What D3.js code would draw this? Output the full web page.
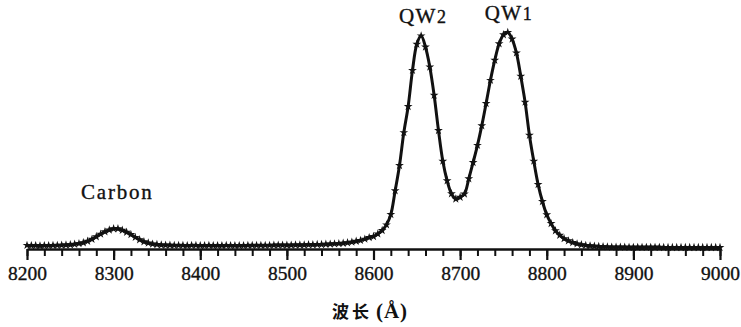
<!DOCTYPE html>
<html>
<head>
<meta charset="utf-8">
<script src="https://cdn.jsdelivr.net/npm/d3@7"></script>
<style>
  html, body { margin: 0; padding: 0; background: #fff; }
  svg { display: block; }
</style>
</head>
<body>
<script>
// ---- data ----
const wavelengthStart = 8200;   // Å
const wavelengthStep = 5;       // Å
// relative intensity (a.u.), one value per 5 Å from 8200 to 9000
const intensity = [
  1.7, 1.6, 1.6, 1.5, 1.6, 1.6, 1.7, 1.7, 1.8, 1.9,
  2.0, 2.2, 2.5, 2.9, 3.6, 4.5, 5.7, 6.9, 8.0, 8.8,
  9.4, 9.4, 8.7, 7.8, 6.7, 5.4, 4.3, 3.4, 2.8, 2.3,
  2.1, 1.9, 1.8,
  1.8, 1.7, 1.7, 1.7, 1.6, 1.7, 1.7, 1.6, 1.6, 1.7,
  1.6, 1.6, 1.6, 1.7, 1.6, 1.6, 1.6, 1.6, 1.7, 1.7,
  1.7, 1.7, 1.7, 1.7, 1.8, 1.8, 1.8,
  1.8, 1.8, 1.9, 1.9, 1.9, 2.0, 2.0, 2.1, 2.1, 2.2,
  2.3, 2.4, 2.5, 2.7, 2.9, 3.2, 3.6, 4.0, 4.6, 5.3,
  5.8, 7.0, 8.6, 11.2, 16.0, 27.0, 38.7, 53.9, 66.0, 82.7,
  94.8, 98.7, 93.5, 84.3, 71.2, 54.9, 40.7, 31.6, 25.6, 23.2,
  24.0, 25.5, 32.5, 40.1, 48.0, 57.1, 67.4, 78.1, 87.4, 95.0,
  99.2, 100.3, 97.2, 90.8, 80.0, 68.0, 52.7, 40.7, 29.9, 22.0,
  15.9, 11.8, 8.5, 6.4, 4.8, 3.8, 3.0, 2.4, 2.0, 1.7,
  1.5, 1.3, 1.2, 1.1, 1.0,
  0.9, 0.9, 0.9, 0.9, 0.8, 0.8, 0.8, 0.8, 0.8, 0.8,
  0.8, 0.8, 0.7, 0.7, 0.7, 0.7, 0.7, 0.7, 0.7, 0.7,
  0.7, 0.7, 0.7, 0.7, 0.7, 0.7
];
const majorTicks = [8200, 8300, 8400, 8500, 8600, 8700, 8800, 8900, 9000];
const minorTicks = d3.range(8200, 9001, 20);
const peakLabels = [
  { name: "Carbon", sub: "", wl: 8302, v: 9.4 },
  { name: "QW", sub: "2", wl: 8655, v: 98.7 },
  { name: "QW", sub: "1", wl: 8754, v: 100.3 }
];
const axisTitleCJK = "波长";
const axisTitleUnit = "(Å)";

// ---- layout ----
const W = 741, H = 327;
const svg = d3.select("body").append("svg").attr("width", W).attr("height", H);

const x = d3.scaleLinear().domain([8200, 9000]).range([27, 720]);
const y = d3.scaleLinear().domain([0, 100]).range([249, 33]);

const data = intensity.map((v, i) => ({ wl: wavelengthStart + i * wavelengthStep, v }));

const serif = "'Liberation Serif', 'DejaVu Serif', serif";

// axis
const axisG = svg.append("g").attr("transform", `translate(0,${y(0)})`);
axisG.call(d3.axisBottom(x).tickValues(minorTicks).tickSize(7).tickSizeOuter(0).tickFormat(""));
axisG.selectAll(".tick line").attr("stroke", "#111").attr("stroke-width", 2);
axisG.select(".domain").remove();
const majorG = svg.append("g").attr("transform", `translate(0,${y(0)})`);
majorG.call(d3.axisBottom(x).tickValues(majorTicks).tickSize(11).tickSizeOuter(0).tickPadding(20).tickFormat(d3.format("d")));
majorG.select(".domain").attr("stroke", "#111").attr("stroke-width", 2.4);
majorG.selectAll(".tick line").attr("stroke", "#111").attr("stroke-width", 2.2);
majorG.selectAll(".tick text")
  .attr("fill", "#111")
  .attr("stroke", "#111")
  .attr("stroke-width", 0.35)
  .attr("font-family", serif)
  .attr("font-size", 19.5)
  .attr("dy", 0);

// curve
const line = d3.line().x(d => x(d.wl)).y(d => y(d.v)).curve(d3.curveCatmullRom.alpha(0.5));
svg.append("path").datum(data)
  .attr("d", line)
  .attr("fill", "none")
  .attr("stroke", "#111")
  .attr("stroke-width", 3)
  .attr("stroke-linejoin", "round");

const star = d3.symbol().type(d3.symbolStar).size(24);
svg.append("g").selectAll("path").data(data).join("path")
  .attr("transform", d => `translate(${x(d.wl)},${y(d.v)})`)
  .attr("d", star)
  .attr("fill", "#111");

// peak labels
const lbl = svg.append("g")
  .attr("font-family", serif)
  .attr("fill", "#111")
  .attr("stroke", "#111")
  .attr("stroke-width", 0.35)
  .attr("font-size", 21)
  .attr("text-anchor", "middle");
const offsets = { "Carbon": 30, "QW2": 13, "QW1": 12 };
peakLabels.forEach(p => {
  const t = lbl.append("text")
    .attr("x", x(p.wl) + 2)
    .attr("y", y(p.v) - offsets[p.name + p.sub])
    .attr("letter-spacing", p.sub ? 1.5 : 1.8);
  t.append("tspan").text(p.name);
  if (p.sub) t.append("tspan").attr("font-size", 18).text(p.sub);
});

// axis title
const title = svg.append("text")
  .attr("x", 370).attr("y", 318)
  .attr("text-anchor", "middle")
  .attr("fill", "#111");
title.append("tspan")
  .attr("font-family", "'Noto Sans CJK SC', sans-serif")
  .attr("font-weight", "bold")
  .attr("font-size", 17)
  .attr("letter-spacing", 3)
  .text(axisTitleCJK);
title.append("tspan")
  .attr("font-family", serif)
  .attr("font-weight", "bold")
  .attr("font-size", 21)
  .attr("dx", 4)
  .attr("letter-spacing", 1)
  .text(axisTitleUnit);
</script>
</body>
</html>
